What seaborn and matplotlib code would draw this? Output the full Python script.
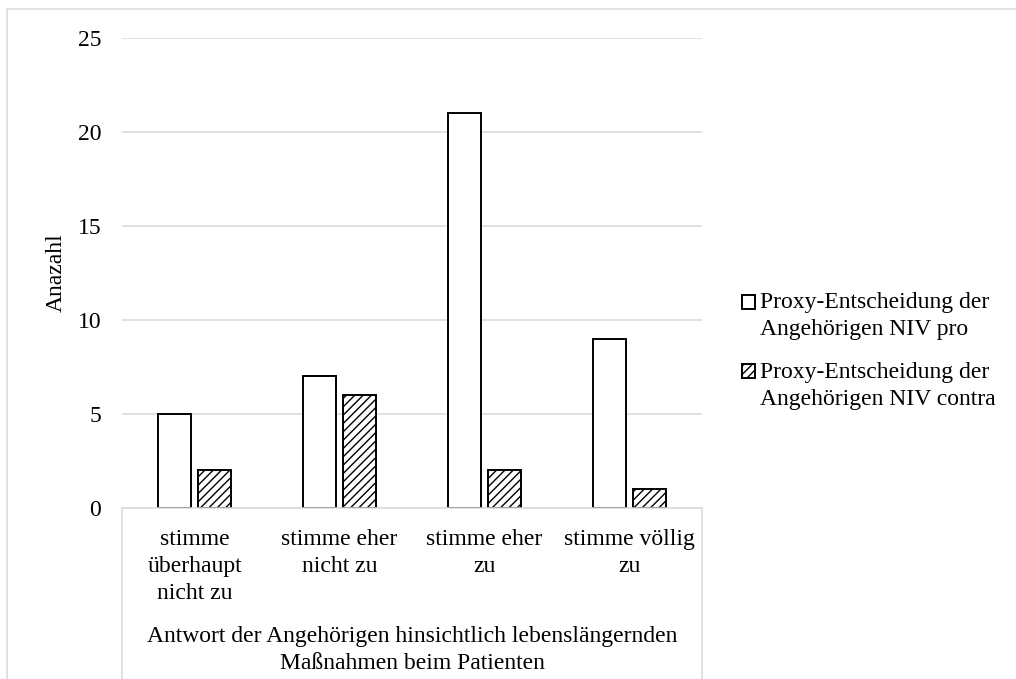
import matplotlib
matplotlib.use("Agg")
import matplotlib.pyplot as plt
from matplotlib.lines import Line2D
from matplotlib.patches import Rectangle
from matplotlib.legend_handler import HandlerPatch
import pandas as pd
import seaborn as sns

# data
categories = ["stimme\nüberhaupt\nnicht zu", "stimme eher\nnicht zu",
              "stimme eher\nzu", "stimme völlig\nzu"]
series = ["Proxy-Entscheidung der\nAngehörigen NIV pro",
          "Proxy-Entscheidung der\nAngehörigen NIV contra"]
pro_values = [5, 7, 21, 9]
contra_values = [2, 6, 2, 1]
y_ticks = [0, 5, 10, 15, 20, 25]

df = pd.DataFrame({
    "Antwort": categories * 2,
    "Anzahl": pro_values + contra_values,
    "Gruppe": [series[0]] * 4 + [series[1]] * 4,
})

sns.set_theme(style="white")
plt.rcParams["font.family"] = ["Liberation Serif", "DejaVu Serif"]
plt.rcParams["text.color"] = "black"
plt.rcParams["axes.labelcolor"] = "black"
plt.rcParams["xtick.color"] = "black"
plt.rcParams["ytick.color"] = "black"
grid_col = "#d9d9d9"
fs = 17
ls = 1.37

fig = plt.figure(figsize=(10.16, 6.79), dpi=100)
ax = fig.add_axes([122 / 1016, 1 - 508 / 679, 580 / 1016, 470 / 679])

sns.barplot(data=df, x="Antwort", y="Anzahl", hue="Gruppe", order=categories,
            hue_order=series, palette=["white", "white"], width=0.56, gap=0.19,
            edgecolor="black", linewidth=1.4, saturation=1, legend=False, ax=ax)

for bar in ax.containers[1]:
    bar.set_hatch("////")

ax.set_ylim(0, 25)
ax.set_xlim(-0.5, 3.5)
ax.set_yticks(y_ticks)
ax.yaxis.grid(True, color=grid_col, linewidth=1.1)
ax.set_axisbelow(True)
ax.tick_params(axis="y", length=0, pad=15, labelsize=fs)
ax.tick_params(axis="x", length=0, pad=15, labelsize=fs)
for lbl in ax.get_xticklabels():
    lbl.set_linespacing(ls)

for side in ["top", "right", "left"]:
    ax.spines[side].set_visible(False)
ax.spines["bottom"].set_color(grid_col)
ax.spines["bottom"].set_linewidth(1.1)

# category axis box (Excel style)
for xa in [0, 1]:
    ax.add_line(Line2D([xa, xa], [0, -0.37], transform=ax.transAxes,
                       color=grid_col, linewidth=1.1, clip_on=False))

ax.set_ylabel("Anazahl", fontsize=fs)
ax.yaxis.set_label_coords(-0.095, 0.5)
ax.set_xlabel("Antwort der Angehörigen hinsichtlich lebenslängernden\nMaßnahmen beim Patienten",
              fontsize=fs, linespacing=ls)
ax.xaxis.set_label_coords(0.5, -0.251)

# outer chart border
fig.add_artist(Line2D([7 / 1016, 7 / 1016], [0, 1 - 9 / 679], transform=fig.transFigure,
                      color=grid_col, linewidth=1.1))
fig.add_artist(Line2D([7 / 1016, 1], [1 - 9 / 679, 1 - 9 / 679], transform=fig.transFigure,
                      color=grid_col, linewidth=1.1))


# legend box sits next to the first line of each entry
def top_box(legend, orig_handle, xdescent, ydescent, width, height, fontsize):
    return Rectangle((-xdescent, -ydescent + 10), width, height)


handles = [ax.containers[0].patches[0], ax.containers[1].patches[0]]
leg = ax.legend(handles=handles, labels=series,
                handler_map={Rectangle: HandlerPatch(patch_func=top_box)},
                loc="center left", bbox_to_anchor=(742 / 1016, 1 - 351 / 679),
                bbox_transform=fig.transFigure, frameon=False, fontsize=fs,
                handlelength=0.55, handleheight=0.55, handletextpad=0.2,
                labelspacing=0.9, borderpad=0, borderaxespad=0)
for t in leg.get_texts():
    t.set_linespacing(ls)

fig.savefig("out.png", dpi=100)
